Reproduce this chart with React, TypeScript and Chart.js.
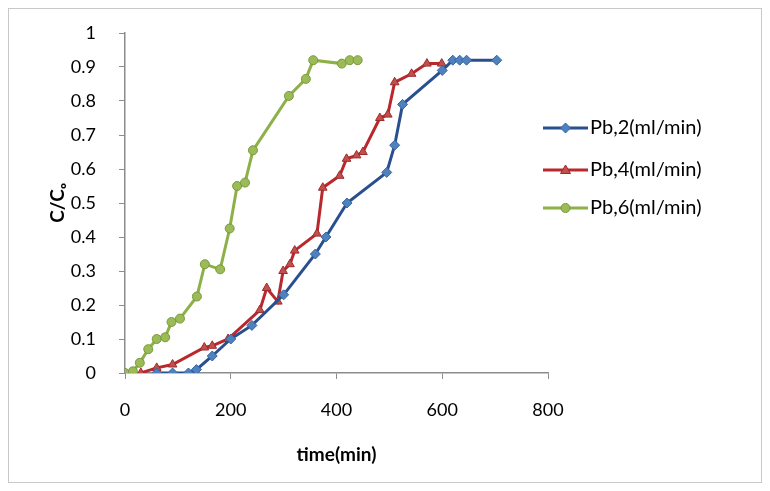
import React, { useEffect, useRef } from "react";
import { Chart, registerables } from "chart.js";
Chart.register(...registerables);

// Pb, 2 ml/min
const timePb2 = [60, 90, 120, 135, 165, 200, 240, 300, 360, 380, 420, 495, 510, 525, 600, 620, 633, 646, 703];
const cPb2 = [0, 0, 0, 0.01, 0.05, 0.1, 0.14, 0.23, 0.35, 0.4, 0.5, 0.59, 0.67, 0.79, 0.89, 0.92, 0.92, 0.92, 0.92];

// Pb, 4 ml/min
const timePb4 = [30, 60, 90, 150, 165, 195, 255, 268, 289, 299, 312, 321, 363, 374, 406, 419, 438, 450, 482, 497, 510, 542, 571, 599];
const cPb4 = [0, 0.015, 0.025, 0.075, 0.08, 0.1, 0.185, 0.25, 0.21, 0.3, 0.32, 0.36, 0.41, 0.545, 0.58, 0.63, 0.64, 0.65, 0.75, 0.76, 0.855, 0.88, 0.91, 0.91];

// Pb, 6 ml/min
const timePb6 = [0, 15, 28, 44, 60, 76, 88, 104, 136, 151, 180, 198, 212, 227, 242, 310, 342, 356, 410, 425, 440];
const cPb6 = [0, 0.005, 0.03, 0.07, 0.1, 0.105, 0.15, 0.16, 0.225, 0.32, 0.305, 0.425, 0.55, 0.56, 0.655, 0.815, 0.865, 0.92, 0.91, 0.92, 0.92];

const seriesLabels = ["Pb,2(ml/min)", "Pb,4(ml/min)", "Pb,6(ml/min)"];
const xMin = 0, xMax = 800, xStep = 200;
const yMin = 0, yMax = 1, yStep = 0.1;
const xTitle = "time(min)";
const yTitle = "C/C\u2092";

const FONT = "Lato, 'Open Sans', 'DejaVu Sans', sans-serif";

type Style = { line: string; fill: string; stroke: string; shape: string; r: number };
const styles: Style[] = [
  { line: "#2a4f8f", fill: "#4f81bd", stroke: "#3565a5", shape: "diamond", r: 5 },
  { line: "#b8282c", fill: "#c0504d", stroke: "#a02a2a", shape: "triangle", r: 5 },
  { line: "#8db048", fill: "#9bbb59", stroke: "#7a9a3a", shape: "circle", r: 4.5 },
];

function drawMarker(ctx: CanvasRenderingContext2D, s: Style, x: number, y: number) {
  ctx.save();
  ctx.fillStyle = s.fill;
  ctx.strokeStyle = s.stroke;
  ctx.lineWidth = 1;
  ctx.beginPath();
  if (s.shape === "diamond") {
    ctx.moveTo(x, y - s.r);
    ctx.lineTo(x + s.r, y);
    ctx.lineTo(x, y + s.r);
    ctx.lineTo(x - s.r, y);
    ctx.closePath();
  } else if (s.shape === "triangle") {
    ctx.moveTo(x, y - s.r);
    ctx.lineTo(x + s.r, y + s.r * 0.7);
    ctx.lineTo(x - s.r, y + s.r * 0.7);
    ctx.closePath();
  } else {
    ctx.arc(x, y, s.r, 0, Math.PI * 2);
  }
  ctx.fill();
  ctx.stroke();
  ctx.restore();
}

export default function App() {
  const ref = useRef<HTMLCanvasElement>(null);
  useEffect(() => {
    if (!ref.current) return;
    const xs = [timePb2, timePb4, timePb6];
    const ys = [cPb2, cPb4, cPb6];
    const pointStyles = ["rectRot", "triangle", "circle"];

    const legendPlugin = {
      id: "sideLegend",
      afterDraw(chart: any) {
        const ctx = chart.ctx as CanvasRenderingContext2D;
        const legendYs = [119, 161, 199];
        const x0 = 534, x1 = 579;
        seriesLabels.forEach((label, i) => {
          const s = styles[i];
          const y = legendYs[i];
          ctx.save();
          ctx.strokeStyle = s.line;
          ctx.lineWidth = 3;
          ctx.beginPath();
          ctx.moveTo(x0, y);
          ctx.lineTo(x1, y);
          ctx.stroke();
          ctx.restore();
          drawMarker(ctx, s, (x0 + x1) / 2, y);
          ctx.save();
          ctx.fillStyle = "#000";
          ctx.font = `20px ${FONT}`;
          ctx.textBaseline = "middle";
          ctx.textAlign = "left";
          ctx.fillText(label, x1 + 2, y);
          ctx.restore();
        });
      },
    };

    const chart = new Chart(ref.current, {
      type: "line",
      data: {
        datasets: xs.map((xv, i) => ({
          label: seriesLabels[i],
          data: xv.map((x, j) => ({ x, y: ys[i][j] })),
          borderColor: styles[i].line,
          backgroundColor: styles[i].fill,
          pointBackgroundColor: styles[i].fill,
          pointBorderColor: styles[i].stroke,
          pointBorderWidth: 1,
          pointStyle: pointStyles[i] as any,
          pointRadius: styles[i].r,
          borderWidth: 3,
          tension: 0,
          fill: false,
        })),
      },
      plugins: [legendPlugin],
      options: {
        animation: false,
        responsive: false,
        maintainAspectRatio: false,
        layout: { padding: { left: 33, top: 24, right: 213, bottom: 12 } },
        plugins: { legend: { display: false }, tooltip: { enabled: false } },
        scales: {
          x: {
            type: "linear",
            min: xMin,
            max: xMax,
            ticks: { stepSize: xStep, color: "#000", padding: 20, font: { family: FONT, size: 18 } },
            grid: { display: true, drawOnChartArea: false, drawTicks: true, tickLength: 6, color: "#8c8c8c" },
            border: { display: true, color: "#8c8c8c", width: 1.5 },
            title: { display: true, text: xTitle, color: "#000", font: { family: FONT, size: 19, weight: "bold" }, padding: { top: 4, bottom: 4 } },
            afterFit: (scale: any) => { scale.height = 97; },
          },
          y: {
            type: "linear",
            min: yMin,
            max: yMax,
            ticks: {
              stepSize: yStep,
              color: "#000",
              padding: 23,
              font: { family: FONT, size: 18 },
              callback: (v: any) => String(Number(Number(v).toFixed(1))),
            },
            grid: { display: true, drawOnChartArea: false, drawTicks: true, tickLength: 6, color: "#8c8c8c" },
            border: { display: true, color: "#8c8c8c", width: 1.5 },
            title: { display: true, text: yTitle, color: "#000", font: { family: FONT, size: 19, weight: "bold" }, padding: { top: 4, bottom: 4 } },
            afterFit: (scale: any) => {
              scale.width = 83;
              scale.paddingTop = 10;
              scale.paddingBottom = 10;
            },
          },
        },
      },
    } as any);
    return () => chart.destroy();
  }, []);

  return (
    <div style={{ width: 752, height: 473, border: "1px solid #c8c8c8", background: "#fff" }}>
      <canvas ref={ref} width={752} height={473} style={{ display: "block", width: 752, height: 473 }} />
    </div>
  );
}
